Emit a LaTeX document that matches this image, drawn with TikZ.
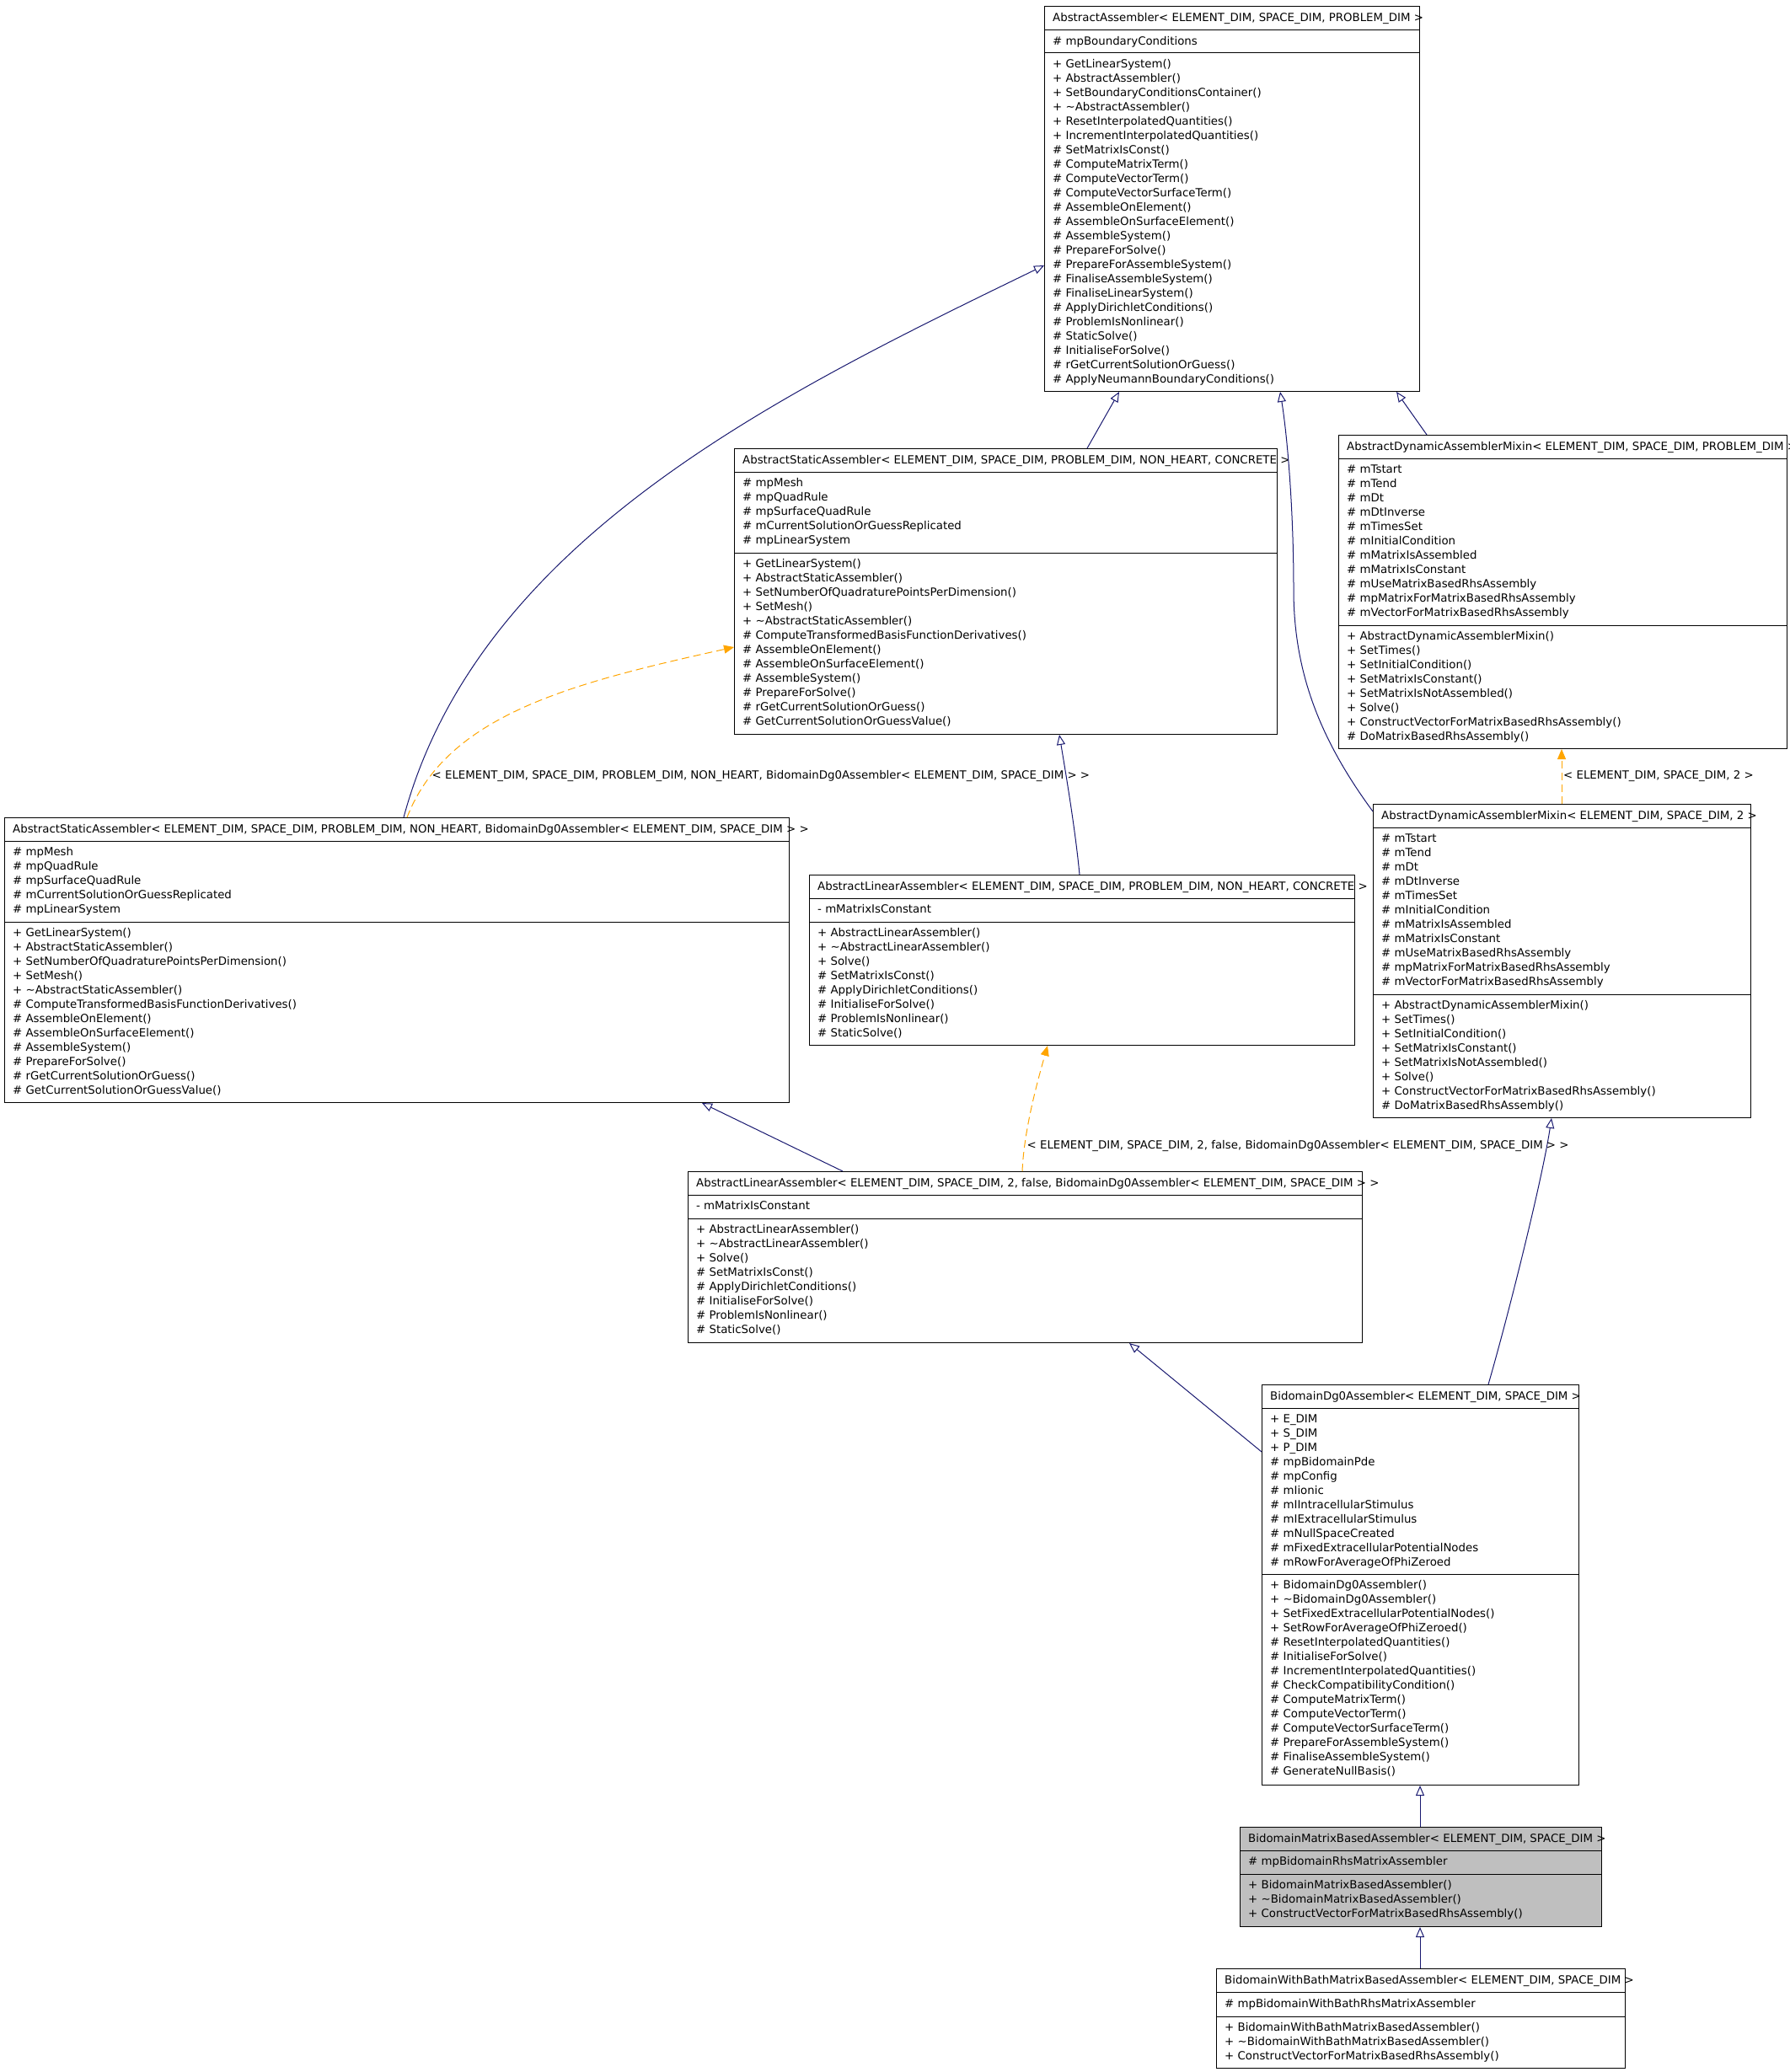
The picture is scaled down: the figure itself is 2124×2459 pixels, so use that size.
\documentclass[tikz,border=0pt]{standalone}
\usepackage{fontspec}
\setmainfont{DejaVu Sans}
\usetikzlibrary{arrows.meta,calc}
\definecolor{EdgeBlue}{RGB}{25,25,112}
\definecolor{TplOrange}{RGB}{255,165,0}
\definecolor{FocusGray}{RGB}{191,191,191}

\begin{document}
\begin{tikzpicture}[x=1pt, y=-1pt,
        classbox/.style={draw, line width=1pt, anchor=north west, inner sep=0pt},
        member/.style={anchor=base west, inner sep=0pt, font=\fontsize{13.33}{17}\selectfont},
        inherit/.style={EdgeBlue, line width=1pt, -{Triangle[open, length=12pt, width=10pt]}},
        instance/.style={TplOrange, line width=1pt, dash pattern=on 9pt off 5pt, -{Triangle[length=12pt, width=10pt]}}
    ]
        \useasboundingbox (0,0) rectangle (2124,2459);
        % Class boxes
        \node[classbox, minimum width=445pt, minimum height=457pt] (aa) at (1239,7) {};
        \node[classbox, minimum width=644pt, minimum height=339pt] (asa) at (871,532) {};
        \node[classbox, minimum width=532pt, minimum height=372pt] (adm) at (1588,516) {};
        \node[classbox, minimum width=931pt, minimum height=338pt] (asb) at (5,970) {};
        \node[classbox, minimum width=647pt, minimum height=202pt] (ala) at (960,1038) {};
        \node[classbox, minimum width=448pt, minimum height=372pt] (adm2) at (1629,954) {};
        \node[classbox, minimum width=800pt, minimum height=203pt] (alb) at (816,1390) {};
        \node[classbox, minimum width=376pt, minimum height=475pt] (bdg) at (1497,1643) {};
        \node[classbox, fill=FocusGray, minimum width=429pt, minimum height=118pt] (bmb) at (1471,2168) {};
        \node[classbox, minimum width=485pt, minimum height=118pt] (bwb) at (1443,2336) {};
        % Compartment separators
        \foreach \b/\sa/\sb in {aa/29/56, asa/28/124, adm/28/226, asb/28/124, ala/28/56,
                adm2/28/226, alb/28/56, bdg/28/225, bmb/28/56, bwb/28/57} {
            \draw[line width=1pt] ($(\b.north west)+(0,\sa)$) -- ($(\b.north east)+(0,\sa)$)
                ($(\b.north west)+(0,\sb)$) -- ($(\b.north east)+(0,\sb)$);
        }
        % Class names
        \node[member] (aa-t) at ($(aa.north west)+(10,19)$) {AbstractAssembler< ELEMENT\_DIM, SPACE\_DIM, PROBLEM\_DIM >};
        \node[member] (asa-t) at ($(asa.north west)+(10,18.5)$) {AbstractStaticAssembler< ELEMENT\_DIM, SPACE\_DIM, PROBLEM\_DIM, NON\_HEART, CONCRETE >};
        \node[member] (adm-t) at ($(adm.north west)+(10,18.5)$) {AbstractDynamicAssemblerMixin< ELEMENT\_DIM, SPACE\_DIM, PROBLEM\_DIM >};
        \node[member] (asb-t) at ($(asb.north west)+(10,18.5)$) {AbstractStaticAssembler< ELEMENT\_DIM, SPACE\_DIM, PROBLEM\_DIM, NON\_HEART, BidomainDg0Assembler< ELEMENT\_DIM, SPACE\_DIM > >};
        \node[member] (ala-t) at ($(ala.north west)+(10,18.5)$) {AbstractLinearAssembler< ELEMENT\_DIM, SPACE\_DIM, PROBLEM\_DIM, NON\_HEART, CONCRETE >};
        \node[member] (adm2-t) at ($(adm2.north west)+(10,18.5)$) {AbstractDynamicAssemblerMixin< ELEMENT\_DIM, SPACE\_DIM, 2 >};
        \node[member] (alb-t) at ($(alb.north west)+(10,18.5)$) {AbstractLinearAssembler< ELEMENT\_DIM, SPACE\_DIM, 2, false, BidomainDg0Assembler< ELEMENT\_DIM, SPACE\_DIM > >};
        \node[member] (bdg-t) at ($(bdg.north west)+(10,18.5)$) {BidomainDg0Assembler< ELEMENT\_DIM, SPACE\_DIM >};
        \node[member] (bmb-t) at ($(bmb.north west)+(10,18.5)$) {BidomainMatrixBasedAssembler< ELEMENT\_DIM, SPACE\_DIM >};
        \node[member] (bwb-t) at ($(bwb.north west)+(10,18.5)$) {BidomainWithBathMatrixBasedAssembler< ELEMENT\_DIM, SPACE\_DIM >};
        % AbstractAssembler members
        \node[member] (aa-a1) at ($(aa.north west)+(10,46.5)$) {\# mpBoundaryConditions};
        \foreach \m [count=\i] in {+ GetLinearSystem(), + AbstractAssembler(), + SetBoundaryConditionsContainer(),
                + \textasciitilde AbstractAssembler(), + ResetInterpolatedQuantities(), + IncrementInterpolatedQuantities(),
                \# SetMatrixIsConst(), \# ComputeMatrixTerm(), \# ComputeVectorTerm(), \# ComputeVectorSurfaceTerm(),
                \# AssembleOnElement(), \# AssembleOnSurfaceElement(), \# AssembleSystem(), \# PrepareForSolve(),
                \# PrepareForAssembleSystem(), \# FinaliseAssembleSystem(), \# FinaliseLinearSystem(),
                \# ApplyDirichletConditions(), \# ProblemIsNonlinear(), \# StaticSolve(), \# InitialiseForSolve(),
                \# rGetCurrentSolutionOrGuess(), \# ApplyNeumannBoundaryConditions()} {
            \node[member] (aa-m\i) at ($(aa.north west)+(10,{56.5+17*\i})$) {\m};
        }
        % AbstractStaticAssembler members (both instances)
        \foreach \b in {asa,asb} {
            \foreach \a [count=\i] in {\# mpMesh, \# mpQuadRule, \# mpSurfaceQuadRule,
                    \# mCurrentSolutionOrGuessReplicated, \# mpLinearSystem} {
                \node[member] (\b-a\i) at ($(\b.north west)+(10,{28.5+17*\i})$) {\a};
            }
            \foreach \m [count=\i] in {+ GetLinearSystem(), + AbstractStaticAssembler(),
                    + SetNumberOfQuadraturePointsPerDimension(), + SetMesh(), + \textasciitilde AbstractStaticAssembler(),
                    \# ComputeTransformedBasisFunctionDerivatives(), \# AssembleOnElement(), \# AssembleOnSurfaceElement(),
                    \# AssembleSystem(), \# PrepareForSolve(), \# rGetCurrentSolutionOrGuess(),
                    \# GetCurrentSolutionOrGuessValue()} {
                \node[member] (\b-m\i) at ($(\b.north west)+(10,{124.5+17*\i})$) {\m};
            }
        }
        % AbstractDynamicAssemblerMixin members (both instances)
        \foreach \b in {adm,adm2} {
            \foreach \a [count=\i] in {\# mTstart, \# mTend, \# mDt, \# mDtInverse, \# mTimesSet, \# mInitialCondition,
                    \# mMatrixIsAssembled, \# mMatrixIsConstant, \# mUseMatrixBasedRhsAssembly,
                    \# mpMatrixForMatrixBasedRhsAssembly, \# mVectorForMatrixBasedRhsAssembly} {
                \node[member] (\b-a\i) at ($(\b.north west)+(10,{28.5+17*\i})$) {\a};
            }
            \foreach \m [count=\i] in {+ AbstractDynamicAssemblerMixin(), + SetTimes(), + SetInitialCondition(),
                    + SetMatrixIsConstant(), + SetMatrixIsNotAssembled(), + Solve(),
                    + ConstructVectorForMatrixBasedRhsAssembly(), \# DoMatrixBasedRhsAssembly()} {
                \node[member] (\b-m\i) at ($(\b.north west)+(10,{226.5+17*\i})$) {\m};
            }
        }
        % AbstractLinearAssembler members (both instances)
        \foreach \b in {ala,alb} {
            \node[member] (\b-a1) at ($(\b.north west)+(10,45.5)$) {- mMatrixIsConstant};
            \foreach \m [count=\i] in {+ AbstractLinearAssembler(), + \textasciitilde AbstractLinearAssembler(), + Solve(),
                    \# SetMatrixIsConst(), \# ApplyDirichletConditions(), \# InitialiseForSolve(),
                    \# ProblemIsNonlinear(), \# StaticSolve()} {
                \node[member] (\b-m\i) at ($(\b.north west)+(10,{56.5+17*\i})$) {\m};
            }
        }
        % BidomainDg0Assembler members
        \foreach \a [count=\i] in {+ E\_DIM, + S\_DIM, + P\_DIM, \# mpBidomainPde, \# mpConfig, \# mIionic,
                \# mIIntracellularStimulus, \# mIExtracellularStimulus, \# mNullSpaceCreated,
                \# mFixedExtracellularPotentialNodes, \# mRowForAverageOfPhiZeroed} {
            \node[member] (bdg-a\i) at ($(bdg.north west)+(10,{28.5+17*\i})$) {\a};
        }
        \foreach \m [count=\i] in {+ BidomainDg0Assembler(), + \textasciitilde BidomainDg0Assembler(),
                + SetFixedExtracellularPotentialNodes(), + SetRowForAverageOfPhiZeroed(),
                \# ResetInterpolatedQuantities(), \# InitialiseForSolve(), \# IncrementInterpolatedQuantities(),
                \# CheckCompatibilityCondition(), \# ComputeMatrixTerm(), \# ComputeVectorTerm(),
                \# ComputeVectorSurfaceTerm(), \# PrepareForAssembleSystem(), \# FinaliseAssembleSystem(),
                \# GenerateNullBasis()} {
            \node[member] (bdg-m\i) at ($(bdg.north west)+(10,{225.5+17*\i})$) {\m};
        }
        % Matrix based assemblers
        \node[member] (bmb-a1) at ($(bmb.north west)+(10,45.5)$) {\# mpBidomainRhsMatrixAssembler};
        \foreach \m [count=\i] in {+ BidomainMatrixBasedAssembler(), + \textasciitilde BidomainMatrixBasedAssembler(),
                + ConstructVectorForMatrixBasedRhsAssembly()} {
            \node[member] (bmb-m\i) at ($(bmb.north west)+(10,{56.5+17*\i})$) {\m};
        }
        \node[member] (bwb-a1) at ($(bwb.north west)+(10,46)$) {\# mpBidomainWithBathRhsMatrixAssembler};
        \foreach \m [count=\i] in {+ BidomainWithBathMatrixBasedAssembler(), + \textasciitilde BidomainWithBathMatrixBasedAssembler(),
                + ConstructVectorForMatrixBasedRhsAssembly()} {
            \node[member] (bwb-m\i) at ($(bwb.north west)+(10,{57.5+17*\i})$) {\m};
        }
        % Inheritance links
        \draw[inherit] ($(asb.north west)+(474,0)$) .. controls (568,640) and (924,468) .. ($(aa.north west)+(0,308)$);
        \draw[inherit] ($(asa.north west)+(419,0)$) -- ($(aa.south west)+(89,0)$);
        \draw[inherit] ($(adm.north west)+(105,0)$) -- ($(aa.south west)+(418,0)$);
        \draw[inherit] ($(adm2.north west)+(0,9)$) .. controls (1568,880) and (1535,800) .. (1535,700)
            .. controls (1535,600) and (1527,514) .. ($(aa.south west)+(280,0)$);
        \draw[inherit] ($(ala.north west)+(321,0)$) .. controls (1276,985) and (1265,920) .. ($(asa.south west)+(386,0)$);
        \draw[inherit] ($(alb.north west)+(184,0)$) -- ($(asb.south west)+(828,0)$);
        \draw[inherit] ($(bdg.north west)+(269,0)$) .. controls (1790,1560) and (1830,1400) .. ($(adm2.south west)+(212,0)$);
        \draw[inherit] ($(bdg.north west)+(0,80)$) -- ($(alb.south west)+(524,0)$);
        \draw[inherit] ($(bmb.north west)+(214,0)$) -- ($(bdg.south west)+(188,0)$);
        \draw[inherit] ($(bwb.north west)+(242,0)$) -- ($(bmb.south west)+(214,0)$);
        % Template instantiations
        \draw[instance] ($(asb.north west)+(478,0)$) .. controls (530,849) and (676,811) .. ($(asa.north west)+(0,236)$);
        \node[member] (asb-lbl) at (512.5,924) {< ELEMENT\_DIM, SPACE\_DIM, PROBLEM\_DIM, NON\_HEART, BidomainDg0Assembler< ELEMENT\_DIM, SPACE\_DIM > >};
        \draw[instance] ($(alb.north west)+(397,0)$) .. controls (1215,1340) and (1232,1280) .. ($(ala.south west)+(283,0)$);
        \node[member] (alb-lbl) at (1218.5,1363) {< ELEMENT\_DIM, SPACE\_DIM, 2, false, BidomainDg0Assembler< ELEMENT\_DIM, SPACE\_DIM > >};
        \draw[instance] ($(adm2.north west)+(224,0)$) -- ($(adm.south west)+(265,0)$);
        \node[member] (adm2-lbl) at (1855,924) {< ELEMENT\_DIM, SPACE\_DIM, 2 >};
\end{tikzpicture}
\end{document}
